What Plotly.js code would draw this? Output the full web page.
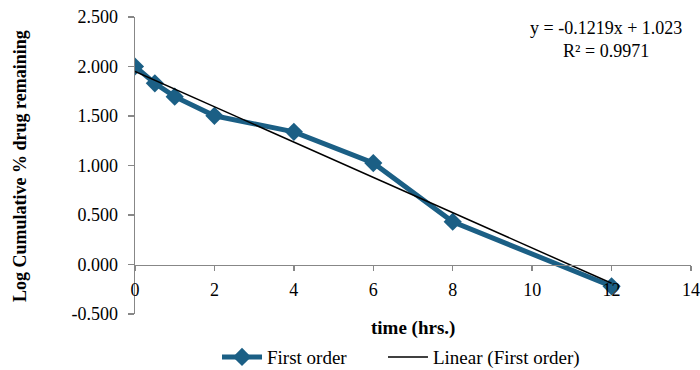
<!DOCTYPE html>
<html>
<head>
<meta charset="utf-8">
<script src="https://cdn.plot.ly/plotly-3.0.1.min.js"></script>
<style>html,body{margin:0;padding:0;background:#fff}#chart{width:700px;height:370px}</style>
</head>
<body>
<div id="chart"></div>
<script>
// Data
const timeHrs = [0, 0.5, 1, 2, 4, 6, 8, 12];
const logRemaining = [2.000, 1.830, 1.695, 1.502, 1.340, 1.025, 0.432, -0.220];
const trendX = [0, 12];
const trendY = [1.950, -0.190];
const xTicks = [0, 2, 4, 6, 8, 10, 12, 14];
const yTicks = [-0.5, 0, 0.5, 1.0, 1.5, 2.0, 2.5];
const seriesName = "First order";
const trendName = "Linear (First order)";
const equationText = "y = -0.1219x + 1.023<br>R² = 0.9971";

const FONT = "Liberation Serif, Times New Roman, serif";
const BLUE = "#1B5F85";
const AXIS = "#878787";

const traces = [
  {
    x: timeHrs, y: logRemaining, name: seriesName, type: "scatter", mode: "lines+markers",
    line: {color: BLUE, width: 5},
    marker: {symbol: "diamond", size: 14, color: BLUE},
    legend: "legend"
  },
  {
    x: trendX, y: trendY, name: trendName, type: "scatter", mode: "lines",
    line: {color: "#000000", width: 1.5},
    legend: "legend2"
  }
];

const legendBase = {
  orientation: "h", xref: "paper", xanchor: "left",
  yref: "container", y: 0.035, yanchor: "middle",
  font: {family: FONT, size: 19, color: "#000"}, itemwidth: 40,
  bgcolor: "rgba(0,0,0,0)"
};

const layout = {
  width: 700, height: 370,
  margin: {l: 135, r: 9, t: 17, b: 56},
  paper_bgcolor: "#ffffff", plot_bgcolor: "#ffffff",
  font: {family: FONT, size: 17, color: "#000"},
  showlegend: true,
  legend: Object.assign({}, legendBase, {x: 0.1475}),
  legend2: Object.assign({}, legendBase, {x: 0.446}),
  xaxis: {
    range: [0, 14], tickvals: xTicks, ticktext: xTicks.map(String),
    anchor: "free", position: 1/6,
    showline: true, linecolor: AXIS, linewidth: 1.5,
    ticks: "outside", ticklen: 5, tickcolor: AXIS, tickwidth: 1.5,
    ticklabelstandoff: 3,
    showgrid: false, zeroline: false,
    tickfont: {family: FONT, size: 18, color: "#000"}
  },
  yaxis: {
    range: [-0.5, 2.5], tickvals: yTicks, ticktext: yTicks.map(v => v.toFixed(3)),
    showline: true, linecolor: AXIS, linewidth: 1.5,
    ticks: "outside", ticklen: 6, tickcolor: AXIS, tickwidth: 1.5,
    ticklabelstandoff: 6,
    showgrid: false, zeroline: false,
    tickfont: {family: FONT, size: 18, color: "#000"}
  },
  annotations: [
    {xref: "paper", yref: "paper", x: 0.5, y: -0.047, xanchor: "center", yanchor: "middle",
     text: "<b>time (hrs.)</b>", showarrow: false, font: {family: FONT, size: 19, color: "#000"}},
    {xref: "paper", yref: "paper", x: -0.207, y: 0.498, xanchor: "center", yanchor: "middle",
     textangle: -90, text: "<b>Log Cumulative % drug remaining</b>", showarrow: false,
     font: {family: FONT, size: 18, color: "#000"}},
    {xref: "paper", yref: "paper", x: 0.847, y: 1.005, xanchor: "center", yanchor: "top",
     text: equationText, showarrow: false, align: "center",
     font: {family: FONT, size: 18, color: "#000"}}
  ]
};

Plotly.newPlot("chart", traces, layout, {displayModeBar: false, staticPlot: true});
</script>
</body>
</html>
